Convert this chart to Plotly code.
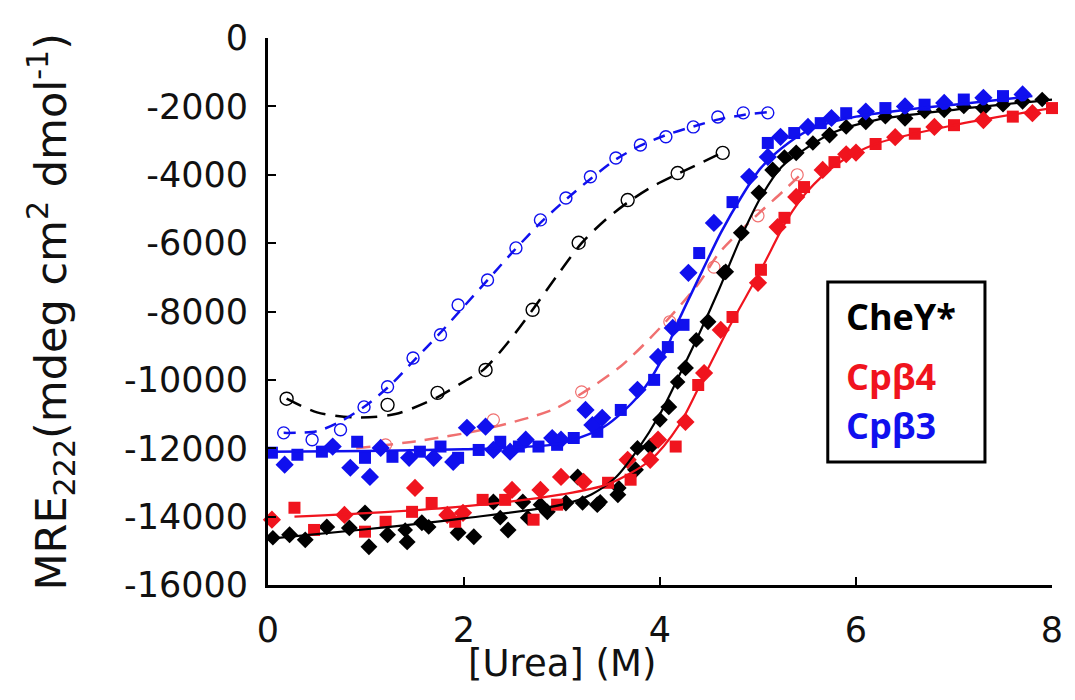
import plotly.graph_objects as go

# ---- CheY* (filled, two replicates) ----
chey_d_x = [0.22, 0.38, 0.6, 0.83, 0.99, 1.03, 1.22, 1.42, 1.57, 1.94, 2.1, 2.3, 2.45, 2.6, 2.85, 3.04, 3.16, 3.36, 3.57, 3.75, 3.9, 4.09, 4.26, 4.49, 4.67, 4.83, 5.01, 5.15, 5.39, 5.73, 6.1, 6.5, 6.9, 7.3, 7.7]
chey_d_y = [-14530, -14680, -14300, -14330, -13890, -14880, -14530, -14740, -14180, -14470, -14590, -13570, -14390, -13570, -13860, -13600, -12840, -13650, -13360, -12630, -11950, -10790, -9650, -8300, -6840, -5700, -4530, -3860, -3360, -2840, -2450, -2350, -2100, -2050, -1850]
chey_s_x = [0.05, 1.4, 1.64, 2.37, 2.65, 2.78, 3.21, 3.39, 3.58, 3.77, 4.0, 4.18, 4.37, 4.65, 5.27, 5.56, 5.9, 6.3, 6.7, 7.1, 7.5, 7.9]
chey_s_y = [-14620, -14390, -14300, -14030, -14030, -13650, -13600, -13570, -13160, -11990, -11170, -10060, -8830, -6870, -3480, -3070, -2600, -2300, -2150, -2000, -1950, -1800]

# ---- Cpb4 (filled, two replicates) ----
cp4_s_x = [0.27, 0.47, 0.99, 1.2, 1.47, 1.67, 1.91, 2.19, 2.42, 2.71, 2.95, 3.47, 3.7, 4.16, 4.39, 4.74, 5.03, 5.27, 5.47, 5.78, 6.2, 6.6, 7.0, 7.6, 8.0]
cp4_s_y = [-13740, -14390, -14440, -14150, -13860, -13600, -14150, -13510, -13510, -14090, -13650, -13010, -12920, -11950, -10150, -8160, -6780, -5260, -4360, -3630, -3100, -2800, -2550, -2300, -2050]
cp4_d_x = [0.04, 0.78, 1.5, 1.83, 1.99, 2.49, 2.78, 2.99, 3.22, 3.67, 3.9, 3.98, 4.26, 4.45, 4.62, 5.0, 5.2, 5.39, 5.66, 5.9, 6.0, 6.4, 6.8, 7.3, 7.8]
cp4_d_y = [-14090, -13950, -13160, -13950, -13890, -13220, -13220, -12840, -12980, -12340, -12340, -11750, -11230, -9800, -8540, -7160, -5530, -4650, -3860, -3400, -3350, -2900, -2600, -2400, -2200]

# ---- Cpb3 (filled, two replicates) ----
cp3_s_x = [0.04, 0.3, 0.55, 0.91, 0.99, 1.27, 1.55, 1.76, 1.94, 2.15, 2.37, 2.56, 2.76, 2.95, 3.12, 3.36, 3.6, 3.94, 4.08, 4.24, 4.4, 4.74, 5.1, 5.37, 5.64, 5.9, 6.3, 6.7, 7.1, 7.5]
cp3_s_y = [-12130, -12190, -12100, -11810, -12280, -12250, -12100, -11950, -12280, -12050, -11810, -11950, -11950, -11900, -11700, -11520, -10880, -10000, -9040, -8390, -6290, -4800, -3070, -2780, -2490, -2200, -2050, -1950, -1800, -1700]
cp3_d_x = [0.17, 0.66, 0.84, 1.04, 1.15, 1.44, 1.69, 1.89, 2.03, 2.22, 2.3, 2.47, 2.63, 2.9, 2.99, 3.24, 3.31, 3.41, 3.77, 3.98, 4.13, 4.29, 4.55, 4.91, 5.1, 5.23, 5.51, 5.75, 6.1, 6.5, 6.9, 7.3, 7.7]
cp3_d_y = [-12480, -11950, -12570, -12840, -11990, -12280, -12280, -12400, -11400, -11370, -12050, -12100, -11750, -11700, -11750, -10880, -11320, -11110, -10290, -9330, -8480, -6870, -5410, -4060, -3480, -2890, -2600, -2340, -2150, -2000, -1900, -1750, -1650]

# ---- fitted transitions (solid) ----
chey_fit_x = [0, 1, 2, 3, 3.3, 3.55, 3.77, 4.0, 4.2, 4.4, 4.6, 4.83, 5.03, 5.24, 5.51, 5.78, 6.2, 7, 8]
chey_fit_y = [-14650, -14370, -14050, -13650, -13350, -12850, -12050, -11000, -9850, -8650, -7370, -5810, -4650, -3770, -3190, -2750, -2400, -2100, -1800]
cp4_fit_x = [0.27, 1, 2, 3, 3.47, 3.9, 4.2, 4.45, 4.69, 5.03, 5.3, 5.5, 5.8, 6.2, 7, 8]
cp4_fit_y = [-14000, -13900, -13700, -13350, -13050, -12350, -11300, -9900, -8540, -6780, -5300, -4500, -3700, -3100, -2550, -2050]
cp3_fit_x = [0, 1, 2, 2.5, 3, 3.43, 3.77, 4.0, 4.2, 4.45, 4.62, 4.83, 5.03, 5.31, 5.57, 6, 6.5, 7, 7.8]
cp3_fit_y = [-12100, -12080, -12030, -11980, -11850, -11370, -10500, -9500, -8200, -6700, -5700, -4650, -3800, -3070, -2630, -2300, -2100, -1950, -1700]

# ---- second condition (open circles, dashed fits) ----
chey_o_x = [0.19, 1.22, 1.73, 2.22, 2.70, 3.17, 3.67, 4.18, 4.64]
chey_o_y = [-10550, -10730, -10380, -9710, -7950, -5990, -4740, -3950, -3360]
chey_ofit_x = [0.19, 0.5, 0.9, 1.3, 1.7, 2.0, 2.2, 2.45, 2.7, 2.95, 3.2, 3.45, 3.7, 3.95, 4.2, 4.64]
chey_ofit_y = [-10550, -10950, -11100, -11000, -10550, -10050, -9700, -8900, -7950, -6950, -6000, -5300, -4750, -4300, -3950, -3350]

cp3_o_x = [0.16, 0.45, 0.74, 0.98, 1.22, 1.48, 1.76, 1.94, 2.24, 2.53, 2.78, 3.04, 3.29, 3.55, 3.8, 4.06, 4.34, 4.59, 4.85, 5.10]
cp3_o_y = [-11550, -11750, -11460, -10790, -10200, -9360, -8680, -7810, -7080, -6140, -5320, -4680, -4060, -3510, -3130, -2890, -2600, -2310, -2190, -2190]
cp3_ofit_x = [0.16, 0.5, 0.75, 1.0, 1.25, 1.5, 1.75, 2.0, 2.25, 2.5, 2.8, 3.05, 3.3, 3.55, 3.8, 4.05, 4.35, 4.6, 4.85, 5.1]
cp3_ofit_y = [-11550, -11500, -11200, -10750, -10150, -9400, -8650, -7850, -7050, -6250, -5350, -4700, -4100, -3550, -3150, -2850, -2580, -2380, -2250, -2170]

cp4_o_x = [1.2, 2.3, 3.2, 4.1, 4.55, 5.0, 5.4]
cp4_o_y = [-11900, -11170, -10350, -8300, -6700, -5200, -4000]
cp4_ofit_x = [0.9, 1.5, 2.2, 2.9, 3.2, 3.6, 4.0, 4.4, 4.6, 5.0, 5.25, 5.45]
cp4_ofit_y = [-12000, -11800, -11450, -10880, -10400, -9600, -8480, -7160, -6300, -5150, -4500, -3950]

# ---- axes ----
x_ticks = [0, 2, 4, 6, 8]
x_labels = ["0", "2", "4", "6", "8"]
y_ticks = [0, -2000, -4000, -6000, -8000, -10000, -12000, -14000, -16000]
y_labels = ["0", "-2000", "-4000", "-6000", "-8000", "-10000", "-12000", "-14000", "-16000"]

legend_names = ["CheY*", "Cp\u03b24", "Cp\u03b23"]

BLACK = "#000000"
RED = "#f0141e"
BLUE = "#1010ee"
RED_LIGHT = "#f07070"

fig = go.Figure()


def fit_line(x, y, color, dash=None, width=2.2):
    fig.add_trace(go.Scatter(
        x=x, y=y, mode="lines", line=dict(color=color, width=width, dash=dash, shape="spline", smoothing=0.8),
        cliponaxis=False, showlegend=False, hoverinfo="skip"))


def points(x, y, color, symbol, size, lw=0):
    marker = dict(symbol=symbol, size=size, color=color, line=dict(color=color, width=lw))
    fig.add_trace(go.Scatter(x=x, y=y, mode="markers", marker=marker,
                             cliponaxis=False, showlegend=False))


# dashed fits and open circles
fit_line(cp4_ofit_x, cp4_ofit_y, RED_LIGHT, dash="14px,9px", width=2.5)
points(cp4_o_x, cp4_o_y, RED_LIGHT, "circle-open", 12, lw=1.2)
fit_line(chey_ofit_x, chey_ofit_y, BLACK, dash="16px,10px", width=2.5)
points(chey_o_x, chey_o_y, BLACK, "circle-open", 13, lw=1.4)
fit_line(cp3_ofit_x, cp3_ofit_y, BLUE, dash="12px,9px", width=2.5)
points(cp3_o_x, cp3_o_y, BLUE, "circle-open", 12, lw=1.4)

# filled data
points(chey_d_x, chey_d_y, BLACK, "diamond", 13)
points(chey_s_x, chey_s_y, BLACK, "diamond", 12)
points(cp4_s_x, cp4_s_y, RED, "square", 12)
points(cp4_d_x, cp4_d_y, RED, "diamond", 14)
points(cp3_s_x, cp3_s_y, BLUE, "square", 12)
points(cp3_d_x, cp3_d_y, BLUE, "diamond", 14)

# solid fits
fit_line(chey_fit_x, chey_fit_y, BLACK, width=2.2)
fit_line(cp4_fit_x, cp4_fit_y, RED, width=2.2)
fit_line(cp3_fit_x, cp3_fit_y, BLUE, width=2.5)

tick_font = dict(family="DejaVu Sans", size=35, color="#111111")

fig.update_xaxes(range=[0, 8], tickmode="array", tickvals=x_ticks, ticktext=x_labels,
                 ticks="inside", ticklen=8, tickwidth=2, tickcolor="black",
                 showline=True, linewidth=3, linecolor="black", mirror=False,
                 showgrid=False, zeroline=False, tickfont=tick_font, ticklabelstandoff=12)
fig.update_yaxes(range=[-16000, 0], tickmode="array", tickvals=y_ticks, ticktext=y_labels,
                 ticks="inside", ticklen=8, tickwidth=2, tickcolor="black",
                 showline=True, linewidth=3, linecolor="black", mirror=False,
                 showgrid=False, zeroline=False, tickfont=tick_font, ticklabelstandoff=10)

# axis titles
fig.add_annotation(text="MRE<sub>222</sub>(mdeg cm<sup>2</sup> dmol<sup>-1</sup>)",
                   xref="paper", yref="paper", x=-0.278, y=0.5, textangle=-90,
                   showarrow=False, xanchor="center", yanchor="middle",
                   font=dict(family="DejaVu Sans", size=43, color="#111111"))
fig.add_annotation(text="[Urea] (M)", xref="paper", yref="paper", x=0.375, y=-0.143,
                   showarrow=False, xanchor="center", yanchor="middle",
                   font=dict(family="DejaVu Sans", size=37, color="#111111"))

# boxed key
fig.add_shape(type="rect", xref="paper", yref="paper", x0=0.714, x1=0.9145, y0=0.2249, y1=0.554,
              line=dict(color="black", width=3), fillcolor="white", layer="above")
for name, color, yy in zip(legend_names, [BLACK, RED, BLUE], [0.49, 0.381, 0.2925]):
    fig.add_annotation(text="<b>%s</b>" % name, xref="paper", yref="paper", x=0.735, y=yy,
                       showarrow=False, xanchor="left", yanchor="middle",
                       font=dict(family="Open Sans", size=36, color=color))

fig.update_layout(width=1075, height=700, margin=dict(l=268, r=23, t=38, b=115),
                  plot_bgcolor="white", paper_bgcolor="white", showlegend=False)

fig.write_html("out.html")
